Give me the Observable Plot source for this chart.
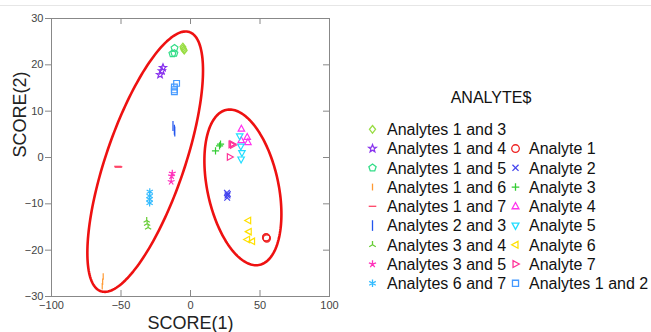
<!DOCTYPE html>
<html><head><meta charset="utf-8">
<script src="https://cdn.jsdelivr.net/npm/d3@7"></script>
<script src="https://cdn.jsdelivr.net/npm/@observablehq/plot@0.6"></script>
<style>
body{margin:0;background:#fff;}
#wrap{position:relative;width:651px;height:332px;overflow:hidden;font-family:"Liberation Sans",Arial,sans-serif;}
#topline{position:absolute;left:0;top:5px;width:651px;height:1px;background:#e6e6e6;}
#wrap svg{position:absolute;left:0;top:0;}
</style></head><body><div id="wrap"><div id="topline"></div></div>
<script>
// ---- data ----
const categories = ["Analytes 1 and 3","Analytes 1 and 4","Analytes 1 and 5","Analytes 1 and 6","Analytes 1 and 7","Analytes 2 and 3","Analytes 3 and 4","Analytes 3 and 5","Analytes 6 and 7","Analyte 1","Analyte 2","Analyte 3","Analyte 4","Analyte 5","Analyte 6","Analyte 7","Analytes 1 and 2"];
const colors = ["#99dd44","#8833ee","#33dd88","#ff9933","#ff4466","#2255ee","#66cc33","#ff33bb","#33bbff","#ee2222","#4444ee","#33cc33","#ff33ee","#22ddff","#ffe000","#ff3399","#4499ff"];
const shapeNames = ["diamond","pentagram","pentagon","bar","dash","vline","wye","star","asterisk","circle","times","plus","triUp","triDown","triLeft","triRight","square"];
const group = [
  "Analytes 1 and 3","Analytes 1 and 3","Analytes 1 and 3","Analytes 1 and 3",
  "Analytes 1 and 4","Analytes 1 and 4","Analytes 1 and 4",
  "Analytes 1 and 5","Analytes 1 and 5","Analytes 1 and 5",
  "Analytes 1 and 6","Analytes 1 and 6","Analytes 1 and 6",
  "Analytes 1 and 7","Analytes 1 and 7","Analytes 1 and 7",
  "Analytes 2 and 3","Analytes 2 and 3","Analytes 2 and 3",
  "Analytes 3 and 4","Analytes 3 and 4","Analytes 3 and 4",
  "Analytes 3 and 5","Analytes 3 and 5","Analytes 3 and 5",
  "Analytes 6 and 7","Analytes 6 and 7","Analytes 6 and 7","Analytes 6 and 7",
  "Analyte 1","Analyte 1","Analyte 1",
  "Analyte 2","Analyte 2","Analyte 2","Analyte 2",
  "Analyte 3","Analyte 3","Analyte 3",
  "Analyte 4","Analyte 4","Analyte 4","Analyte 4",
  "Analyte 5","Analyte 5","Analyte 5","Analyte 5",
  "Analyte 6","Analyte 6","Analyte 6","Analyte 6",
  "Analyte 7","Analyte 7","Analyte 7","Analyte 7",
  "Analytes 1 and 2","Analytes 1 and 2","Analytes 1 and 2","Analytes 1 and 2"
];
const score1 = [
  -5.5,-4.8,-5.2,-4.5,
  -19.8,-20.6,-21.9,
  -11.5,-13.0,-11.6,
  -62.8,-63.2,-63.5,
  -52.3,-52.0,-51.6,
  -12.6,-11.6,-11.3,
  -31.5,-31.2,-30.5,
  -13.1,-13.6,-13.9,
  -29.3,-29.4,-29.5,-29.4,
  54.6,54.9,54.4,
  26.2,26.6,26.4,26.8,
  18.0,20.9,21.6,
  36.6,40.8,41.3,36.5,
  35.4,36.2,37.0,36.4,
  41.6,42.0,40.8,44.4,
  29.4,30.5,30.0,28.2,
  -10.0,-11.6,-11.6,-11.6
];
const score2 = [
  23.9,23.3,23.6,23.1,
  19.4,18.7,17.9,
  23.6,22.4,22.5,
  -25.7,-26.8,-27.8,
  -1.9,-2.1,-2.0,
  6.8,6.0,5.6,
  -13.6,-14.3,-15.1,
  -3.4,-4.0,-5.2,
  -7.4,-8.3,-9.0,-9.8,
  -17.3,-17.5,-17.2,
  -7.6,-8.2,-8.7,-7.9,
  1.45,2.5,2.9,
  6.2,4.4,3.3,3.7,
  4.6,2.4,1.0,-0.4,
  -13.6,-16.0,-17.7,-18.1,
  2.8,2.7,2.9,0.1,
  16.0,15.2,14.6,14.2
];
const xTicks = [-100,-50,0,50,100];
const yTicks = [-30,-20,-10,0,10,20,30];
// ellipse parameters: centre, extents, correlation of the two axes
const ellipseCx = [-32.6, 37.7];
const ellipseCy = [-0.9, -6.45];
const ellipseRx = [41.6, 27.7];
const ellipseRy = [28.1, 16.8];
const ellipseCorr = [0.70, -0.342];
const legendTitle = "ANALYTE$";

// ---- symbols ----
function sym(fn){return {draw(ctx,size){const r=Math.sqrt(size/Math.PI); fn(ctx,r);}};}
function poly(c,pts){c.moveTo(pts[0][0],pts[0][1]); for(let i=1;i<pts.length;i++) c.lineTo(pts[i][0],pts[i][1]); c.closePath();}
function spokes(c,r,n,start){for(let i=0;i<n;i++){const a=start+i*2*Math.PI/n; c.moveTo(0,0); c.lineTo(r*Math.cos(a),r*Math.sin(a));}}
const shapes = {
  diamond: sym((c,r)=>poly(c,[[0,-r],[0.8*r,0],[0,r],[-0.8*r,0]])),
  pentagram: sym((c,r)=>{const p=[];for(let i=0;i<10;i++){const a=-Math.PI/2+i*Math.PI/5;const rr=i%2?r*0.45:r*1.05;p.push([rr*Math.cos(a),rr*Math.sin(a)]);}poly(c,p);}),
  pentagon: sym((c,r)=>{const p=[];for(let i=0;i<5;i++){const a=-Math.PI/2+i*2*Math.PI/5;p.push([r*Math.cos(a),r*Math.sin(a)]);}poly(c,p);}),
  bar: sym((c,r)=>{c.moveTo(0,-r*0.9);c.lineTo(0,r*0.9);}),
  dash: sym((c,r)=>{c.moveTo(-r,0);c.lineTo(r,0);}),
  vline: sym((c,r)=>{c.moveTo(0,-r*1.4);c.lineTo(0,r*1.4);}),
  wye: sym((c,r)=>spokes(c,r,3,-Math.PI/2)),
  star: sym((c,r)=>spokes(c,r,5,-Math.PI/2)),
  asterisk: sym((c,r)=>spokes(c,r,6,-Math.PI/2)),
  circle: sym((c,r)=>{c.moveTo(r,0);c.arc(0,0,r,0,2*Math.PI);}),
  times: sym((c,r)=>{const k=r*0.8;c.moveTo(-k,-k);c.lineTo(k,k);c.moveTo(-k,k);c.lineTo(k,-k);}),
  plus: sym((c,r)=>{c.moveTo(-r,0);c.lineTo(r,0);c.moveTo(0,-r);c.lineTo(0,r);}),
  triUp: sym((c,r)=>poly(c,[[0,-r],[0.9*r,0.65*r],[-0.9*r,0.65*r]])),
  triDown: sym((c,r)=>poly(c,[[0,r],[0.9*r,-0.65*r],[-0.9*r,-0.65*r]])),
  triLeft: sym((c,r)=>poly(c,[[-r,0],[0.65*r,-0.9*r],[0.65*r,0.9*r]])),
  triRight: sym((c,r)=>poly(c,[[r,0],[-0.65*r,-0.9*r],[-0.65*r,0.9*r]])),
  square: sym((c,r)=>poly(c,[[-0.8*r,-0.8*r],[0.8*r,-0.8*r],[0.8*r,0.8*r],[-0.8*r,0.8*r]]))
};
const symbolRange = shapeNames.map(n=>shapes[n]);

// ---- build tables ----
const points = group.map((g,i)=>({group:g, x:score1[i], y:score2[i]}));
const ellipsePts = [];
ellipseCx.forEach((cx,k)=>{
  const phi = Math.acos(ellipseCorr[k]);
  for(let i=0;i<=180;i++){const t=i/180*2*Math.PI;
    ellipsePts.push({id:k, x:cx+ellipseRx[k]*Math.cos(t), y:ellipseCy[k]+ellipseRy[k]*Math.cos(t-phi)});}
});

const W=651,H=332;
const chart = Plot.plot({
  width:W, height:H,
  marginLeft:51, marginTop:18, marginBottom:36, marginRight:322,
  style:{fontFamily:'"Liberation Sans",Arial,sans-serif', fontSize:"11px", color:"#444", background:"transparent"},
  x:{domain:[-100,100]},
  y:{domain:[-30,30]},
  color:{domain:categories, range:colors},
  symbol:{domain:categories, range:symbolRange},
  marks:[
    Plot.gridX(xTicks,{stroke:"#888",strokeOpacity:1,insetTop:272}),
    Plot.gridX(xTicks,{stroke:"#888",strokeOpacity:1,insetBottom:272}),
    Plot.gridY(yTicks,{stroke:"#888",strokeOpacity:1,insetLeft:272}),
    Plot.axisY(yTicks,{anchor:"left",tickSize:6,tickPadding:2,stroke:"#888",label:null,fill:"#444",fontSize:11}),
    Plot.axisX(xTicks,{anchor:"bottom",tickSize:0,tickPadding:5,label:null,fill:"#444",fontSize:11}),
    Plot.frame({stroke:"#888"}),
    Plot.line(ellipsePts,{x:"x",y:"y",z:"id",stroke:"#ee1111",strokeWidth:2.6,curve:"linear-closed"}),
    Plot.dot(points,{x:"x",y:"y",symbol:"group",stroke:"group",fill:"none",r:3.6,strokeWidth:1.2}),
    Plot.text(["SCORE(1)"],{frameAnchor:"bottom",dy:27,lineAnchor:"middle",fontSize:18,fill:"#222"}),
    Plot.text(["SCORE(2)"],{frameAnchor:"left",dx:-31,rotate:-90,lineAnchor:"middle",fontSize:18,fill:"#222"})
  ]
});
document.getElementById("wrap").appendChild(chart);

// ---- legend ----
const svg = d3.select("#wrap").append("svg").attr("width",W).attr("height",H)
  .style("font-family",'"Liberation Sans",Arial,sans-serif');
svg.append("text").attr("x",491).attr("y",103).attr("text-anchor","middle")
  .attr("font-size",16).attr("fill","#111").text(legendTitle);
const rowY0=129.3, rowStep=19.25;
categories.forEach((cat,i)=>{
  const col = i<9?0:1;
  const row = i<9?i:i-8;
  const sx = col===0?372.5:515.5, tx = col===0?387:529;
  const cy = rowY0+row*rowStep;
  const p = d3.path(); symbolRange[i].draw(p, 3.8*3.8*Math.PI);
  svg.append("path").attr("d",p.toString()).attr("transform",`translate(${sx},${cy})`)
    .attr("fill","none").attr("stroke",colors[i]).attr("stroke-width",1.3);
  svg.append("text").attr("x",tx).attr("y",cy+5.7).attr("font-size",16).attr("fill","#111").text(cat);
});
</script></body></html>
